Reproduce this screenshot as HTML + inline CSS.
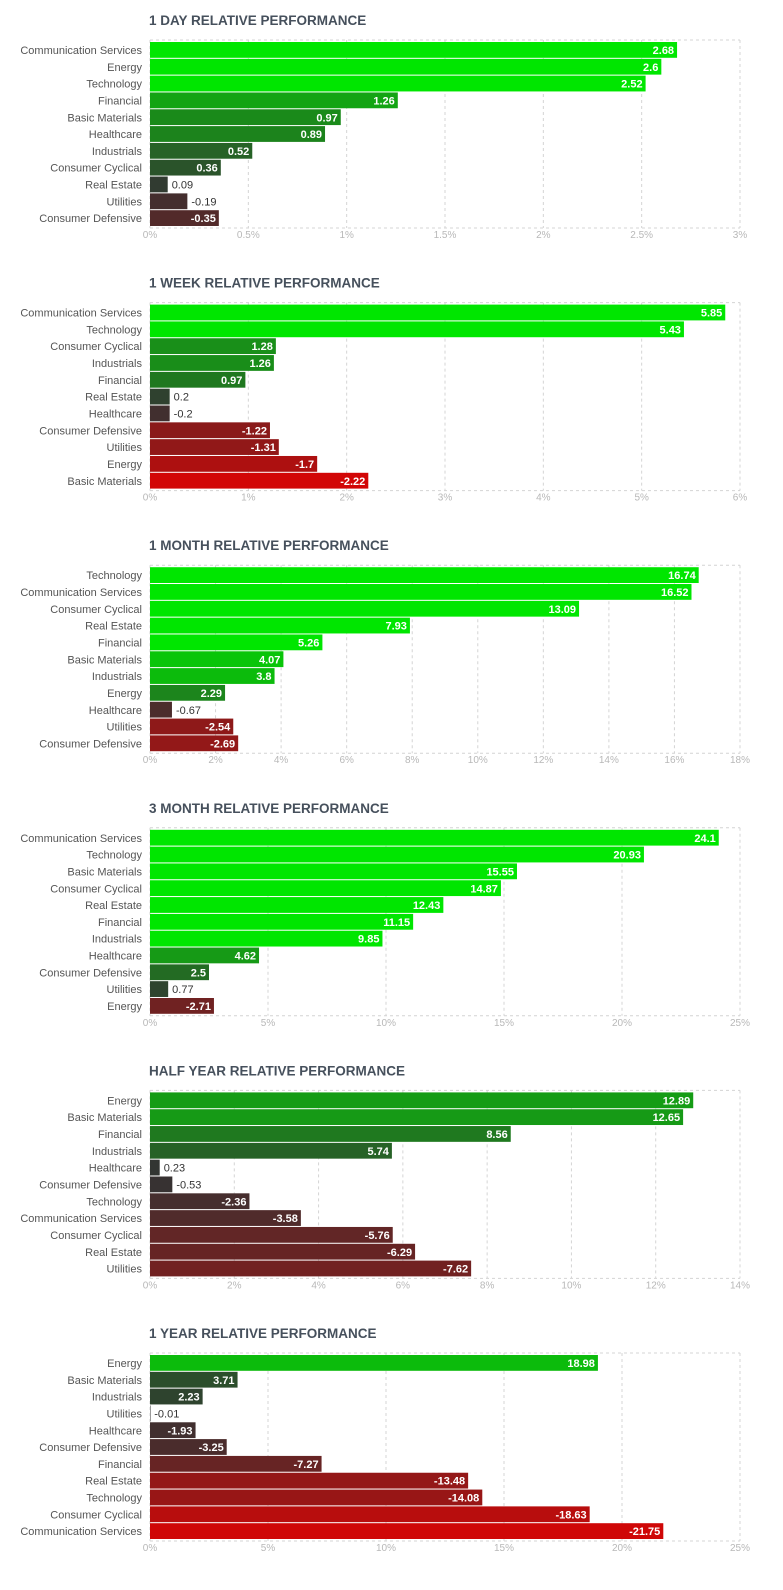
<!DOCTYPE html>
<html><head><meta charset="utf-8">
<style>
html,body{margin:0;padding:0;background:#fff;}
svg{display:block;font-family:"Liberation Sans",sans-serif;}
</style></head>
<body>
<svg id="c" width="783" height="1590"></svg>
<script>
const titles=["1 DAY RELATIVE PERFORMANCE","1 WEEK RELATIVE PERFORMANCE","1 MONTH RELATIVE PERFORMANCE","3 MONTH RELATIVE PERFORMANCE","HALF YEAR RELATIVE PERFORMANCE","1 YEAR RELATIVE PERFORMANCE"];
const cats1d=["Communication Services","Energy","Technology","Financial","Basic Materials","Healthcare","Industrials","Consumer Cyclical","Real Estate","Utilities","Consumer Defensive"];
const vals1d=[2.68,2.6,2.52,1.26,0.97,0.89,0.52,0.36,0.09,-0.19,-0.35];
const cats1w=["Communication Services","Technology","Consumer Cyclical","Industrials","Financial","Real Estate","Healthcare","Consumer Defensive","Utilities","Energy","Basic Materials"];
const vals1w=[5.85,5.43,1.28,1.26,0.97,0.2,-0.2,-1.22,-1.31,-1.7,-2.22];
const cats1m=["Technology","Communication Services","Consumer Cyclical","Real Estate","Financial","Basic Materials","Industrials","Energy","Healthcare","Utilities","Consumer Defensive"];
const vals1m=[16.74,16.52,13.09,7.93,5.26,4.07,3.8,2.29,-0.67,-2.54,-2.69];
const cats3m=["Communication Services","Technology","Basic Materials","Consumer Cyclical","Real Estate","Financial","Industrials","Healthcare","Consumer Defensive","Utilities","Energy"];
const vals3m=[24.1,20.93,15.55,14.87,12.43,11.15,9.85,4.62,2.5,0.77,-2.71];
const catsHy=["Energy","Basic Materials","Financial","Industrials","Healthcare","Consumer Defensive","Technology","Communication Services","Consumer Cyclical","Real Estate","Utilities"];
const valsHy=[12.89,12.65,8.56,5.74,0.23,-0.53,-2.36,-3.58,-5.76,-6.29,-7.62];
const cats1y=["Energy","Basic Materials","Industrials","Utilities","Healthcare","Consumer Defensive","Financial","Real Estate","Technology","Consumer Cyclical","Communication Services"];
const vals1y=[18.98,3.71,2.23,-0.01,-1.93,-3.25,-7.27,-13.48,-14.08,-18.63,-21.75];
const axisMax=[3,6,18,25,14,25];
const tickStep=[0.5,1,2,5,2,5];
const colorScale=[2,2.5,5,8,22,25];
const allCats=[cats1d,cats1w,cats1m,cats3m,catsHy,cats1y];
const allVals=[vals1d,vals1w,vals1m,vals3m,valsHy,vals1y];
const NS="http://www.w3.org/2000/svg";
const svg=document.getElementById('c');
function mk(tag,attrs,parent,text){const e=document.createElementNS(NS,tag);for(const k in attrs)e.setAttribute(k,attrs[k]);if(text!==undefined)e.textContent=text;parent.appendChild(e);return e;}
function col(v,S){const t=Math.min(Math.abs(v)/S,1);const b=[51,51,51];const tg=v>=0?[0,230,0]:[230,0,0];const c=b.map((x,i)=>Math.round(x+(tg[i]-x)*t));return `rgb(${c[0]},${c[1]},${c[2]})`;}
const X0=150,X1=740;
for(let k=0;k<6;k++){
  const oy=k*262.6;
  const g=mk('g',{},svg);
  
  
  const t=mk('text',{x:149,y:oy+25,'font-size':13.5,'font-weight':'bold',fill:'#46505c'},g,titles[k]);
  
  
  const top=oy+40,bot=oy+228;
  const xs=v=>X0+(v/axisMax[k])*(X1-X0);
  const n=Math.round(axisMax[k]/tickStep[k]);
  for(let i=0;i<=n;i++){
    const tv=i*tickStep[k];const x=xs(tv);
    const gl=mk('line',{x1:x,x2:x,y1:top,y2:bot,stroke:'#d4d4d4','stroke-dasharray':'3,3'},g);
    
    
    const tl=mk('text',{x:x,y:bot+10,'font-size':10,fill:'#b8b8b8','text-anchor':'middle'},g,(+tv.toFixed(1))+'%');
    
    
  }
  mk('line',{x1:X0,x2:X1,y1:top,y2:top,stroke:'#d4d4d4','stroke-dasharray':'3,3'},g);
  mk('line',{x1:X0,x2:X1,y1:bot,y2:bot,stroke:'#d4d4d4','stroke-dasharray':'3,3'},g);
  const cats=allCats[k],vals=allVals[k];
  const step=16.82;
  for(let i=0;i<cats.length;i++){
    const y=top+2+i*step;const v=vals[i];
    const w=xs(Math.abs(v))-X0;
    const cl=mk('text',{x:142,y:y+12,'font-size':11,fill:'#555','text-anchor':'end'},g,cats[i]);
    
    
    const r=mk('rect',{x:X0,y:y,width:Math.max(w,0.5),height:15.8,fill:col(v,colorScale[k])},g);
    
    
    let vl;
    if(w>40){vl=mk('text',{x:X0+w-3,y:y+12,'font-size':11,'font-weight':'bold',fill:'#fff','text-anchor':'end'},g,String(v));}
    else{vl=mk('text',{x:X0+w+4,y:y+12,'font-size':11,fill:'#333'},g,String(v));}
    
    
  }
}
</script>
</body></html>
